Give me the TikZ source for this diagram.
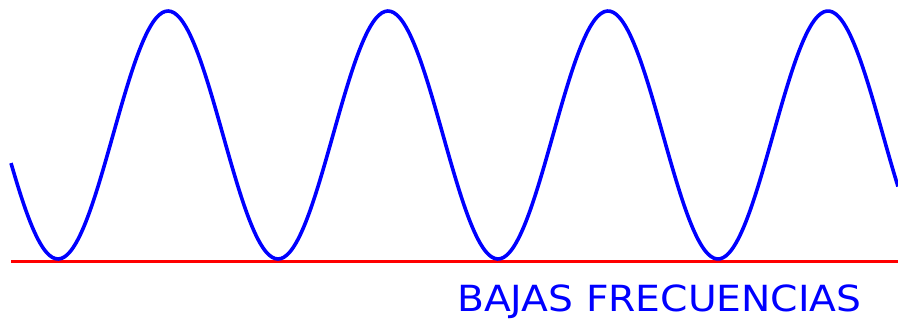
\documentclass[tikz,border=0pt]{standalone}
\usepackage{fontspec}
\setmainfont{DejaVu Sans}
\begin{document}
\begin{tikzpicture}[x=1pt, y=1pt]
  \useasboundingbox (0,0) rectangle (898,322);
  \draw[red, line width=3pt] (11,61) -- (898,61);
  \draw[blue, line width=3.6pt, line join=round]
    plot[domain=11:898, samples=300, smooth] (\x, {187-124*cos(((\x-58)/220)*360)});
  \node[blue, anchor=base west, inner sep=0pt, font=\fontsize{36}{36}\selectfont] (titulo) at (457,11) {\scalebox{1.09}[1]{BAJAS FRECUENCIAS}};
\end{tikzpicture}
\end{document}
